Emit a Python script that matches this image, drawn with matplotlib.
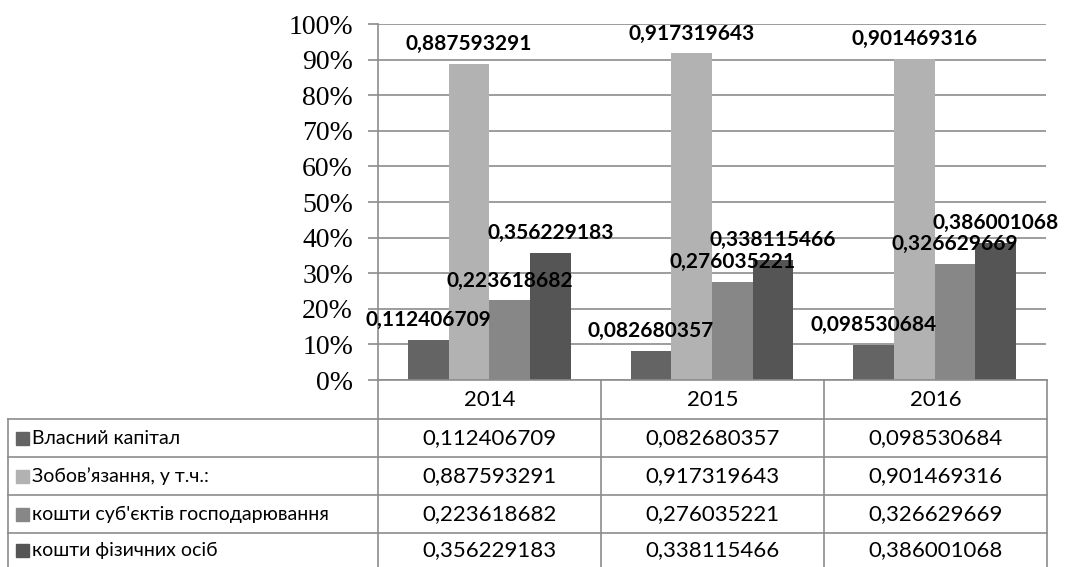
import numpy as np
import matplotlib.pyplot as plt

years = ['2014', '2015', '2016']
series = ['Власний капітал', 'Зобов’язання, у т.ч.:',
          "кошти суб'єктів господарювання", 'кошти фізичних осіб']
own_capital = [0.112406709, 0.082680357, 0.098530684]
liabilities = [0.887593291, 0.917319643, 0.901469316]
business_funds = [0.223618682, 0.276035221, 0.326629669]
personal_funds = [0.356229183, 0.338115466, 0.386001068]
values = [own_capital, liabilities, business_funds, personal_funds]
colors = ['#646464', '#b2b2b2', '#878787', '#555555']

W, H = 1067, 567
fig = plt.figure(figsize=(W / 100, H / 100), dpi=100)

def fx(px):
    return px / W

def fy(py):
    return 1 - py / H

def fmt(v):
    return f'{v:.9f}'.replace('.', ',')

# chart area
x0, x1, ytop, ybot = 378, 1046, 24, 380
ax = fig.add_axes([fx(x0), fy(ybot), fx(x1) - fx(x0), fy(ytop) - fy(ybot)])
ax.set_xlim(0, 3)
ax.set_ylim(0, 1)

bw = 0.183
x = np.arange(3) + 0.5
for i, (vals, c) in enumerate(zip(values, colors)):
    pos = x + (i - 1.5) * bw
    ax.bar(pos, vals, width=bw, color=c, zorder=3)
    for p, v in zip(pos, vals):
        ax.annotate(fmt(v), (p, v), xytext=(0, 7), textcoords='offset points',
                    ha='center', va='bottom', fontsize=15, fontweight='bold',
                    family='Lato', zorder=4)

ticks = np.linspace(0, 1, 11)
ax.set_yticks(ticks)
ax.set_yticklabels([f'{int(round(t * 100))}%' for t in ticks],
                   family='Liberation Serif', fontsize=20)
ax.yaxis.grid(True, color='#8c8c8c', linewidth=1.2, zorder=0)
ax.tick_params(axis='y', length=7, width=1.2, color='#8c8c8c', pad=11)
ax.set_xticks([])
for s in ['top', 'right', 'bottom']:
    ax.spines[s].set_visible(False)
ax.spines['left'].set_color('#8c8c8c')
ax.spines['left'].set_linewidth(1.2)

# data table below the chart
tax = fig.add_axes([0, 0, 1, 1])
tax.set_xlim(0, W)
tax.set_ylim(H, 0)
tax.axis('off')
lc = '#8c8c8c'
col_edges = [378, 601, 824, 1047]
row_edges = [380, 419, 457, 495, 533, 575]
lx = 8

tax.plot([col_edges[0], col_edges[-1]], [row_edges[0]] * 2, color=lc, lw=1.2)
for yy in row_edges[1:5]:
    tax.plot([lx, col_edges[-1]], [yy, yy], color=lc, lw=1.2)
for xx in col_edges:
    tax.plot([xx, xx], [row_edges[0], H], color=lc, lw=1.2)
tax.plot([lx, lx], [row_edges[1], H], color=lc, lw=1.2)

for j, yr in enumerate(years):
    cx = (col_edges[j] + col_edges[j + 1]) / 2
    tax.text(cx, (row_edges[0] + row_edges[1]) / 2, yr, ha='center',
             va='center', fontsize=16, family='Lato')

for i, (name, vals, c) in enumerate(zip(series, values, colors)):
    cy = (row_edges[i + 1] + row_edges[i + 2]) / 2
    if i == 3:
        cy = row_edges[4] + 17
    tax.add_patch(plt.Rectangle((lx + 8, cy - 6), 13, 13, color=c))
    tax.text(lx + 24, cy, name, ha='left', va='center', fontsize=14,
             family='Lato')
    for j, v in enumerate(vals):
        cx = (col_edges[j] + col_edges[j + 1]) / 2
        tax.text(cx, cy, fmt(v), ha='center', va='center', fontsize=16,
                 family='Lato')

fig.savefig('out.png', dpi=100)
